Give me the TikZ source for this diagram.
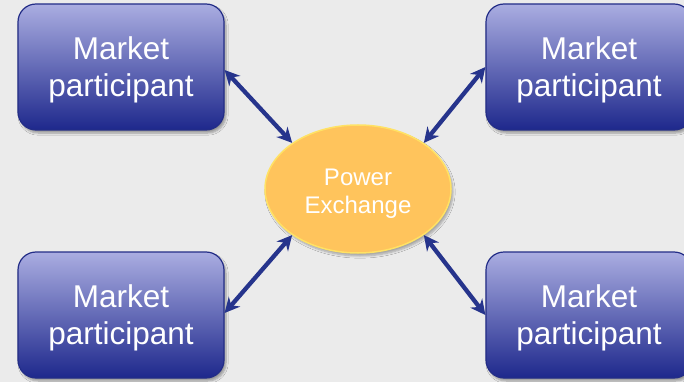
\documentclass[tikz,border=0pt]{standalone}
\usepackage{fontspec}
\setmainfont{Liberation Sans}
\usetikzlibrary{shadows.blur,arrows.meta,shapes.geometric}
\definecolor{bg}{RGB}{235,235,235}
\definecolor{boxtop}{RGB}{170,173,225}
\definecolor{boxmid}{RGB}{122,127,200}
\definecolor{boxbot}{RGB}{30,40,140}
\definecolor{boxline}{RGB}{35,45,135}
\definecolor{exfill}{RGB}{255,196,92}
\definecolor{exline}{RGB}{255,226,100}
\definecolor{arrowcol}{RGB}{38,52,140}
\newcommand{\boxlift}{\rule{0pt}{29pt}}
\newcommand{\exlift}{\rule{0pt}{25.5pt}}
\begin{document}
\begin{tikzpicture}[x=1pt,y=-1pt,
  partbox/.style={rectangle, rounded corners=18pt, minimum width=206pt, minimum height=126pt,
    top color=boxtop, middle color=boxmid, bottom color=boxbot, draw=boxline, line width=1.2pt,
    text=white, align=center, font=\fontsize{31.5}{36.5}\selectfont,
    blur shadow={shadow xshift=2pt, shadow yshift=-3pt, shadow blur steps=6, shadow opacity=35}},
  exnode/.style={ellipse, minimum width=186pt, minimum height=128pt, inner sep=0pt,
    fill=exfill, draw=exline, line width=1.5pt, text=white, align=center,
    font=\fontsize{24}{28.5}\selectfont,
    blur shadow={shadow xshift=2pt, shadow yshift=-3pt, shadow blur steps=6, shadow opacity=30}},
  link/.style={arrowcol, line width=4.3pt,
    {Stealth[length=15pt,width=15pt]}-{Stealth[length=15pt,width=15pt]}}
]
\clip (0,0) rectangle (684,382);
\fill[bg] (0,0) rectangle (684,382);

\node[partbox] (tl) at (121,67) {\boxlift Market\\participant};
\node[partbox] (tr) at (589,67) {\boxlift Market\\participant};
\node[partbox] (bl) at (121,315) {\boxlift Market\\participant};
\node[partbox] (br) at (589,315) {\boxlift Market\\participant};

\node[exnode] (pe) at (358,189) {\exlift Power\\Exchange};

\draw[link] ([yshift=-3pt]tl.east) -- (pe.145);
\draw[link] (tr.west) -- (pe.35);
\draw[link] ([yshift=2pt]bl.east) -- (pe.215);
\draw[link] (br.west) -- (pe.325);
\end{tikzpicture}
\end{document}
